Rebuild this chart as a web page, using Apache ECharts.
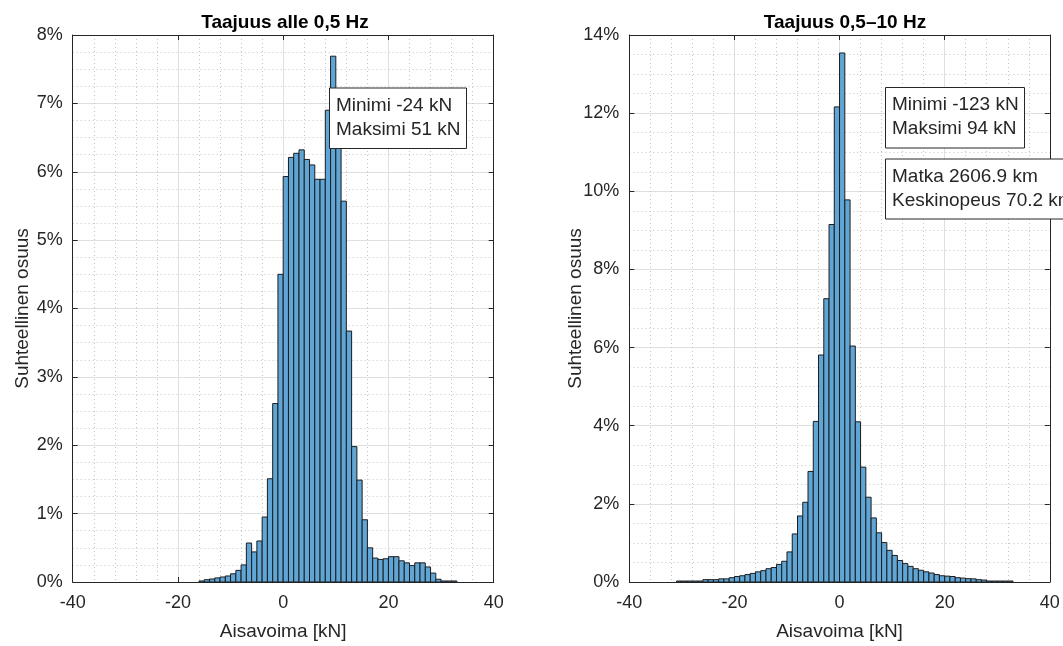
<!DOCTYPE html>
<html><head><meta charset="utf-8">
<script src="https://cdn.jsdelivr.net/npm/echarts@6/dist/echarts.min.js"></script>
<style>html,body{margin:0;padding:0;background:#fff}#c{width:1063px;height:646px}</style>
</head><body><div id="c"></div>
<script>
// ---- data ----
const titleLeft = 'Taajuus alle 0,5 Hz';
const titleRight = 'Taajuus 0,5\u201310 Hz';
const xName = 'Aisavoima [kN]';
const yName = 'Suhteellinen osuus';
const binWidth = 1;
const leftBins = [-16,-15,-14,-13,-12,-11,-10,-9,-8,-7,-6,-5,-4,-3,-2,-1,0,1,2,3,4,5,6,7,8,9,10,11,12,13,14,15,16,17,18,19,20,21,22,23,24,25,26,27,28,29,30,31,32];
const leftPct = [0.015,0.034,0.044,0.06,0.073,0.088,0.12,0.17,0.25,0.57,0.44,0.60,0.95,1.51,2.61,4.50,5.93,6.21,6.27,6.32,6.18,6.10,5.89,5.89,6.90,7.69,6.75,5.57,3.67,1.98,1.49,0.91,0.50,0.35,0.33,0.34,0.37,0.37,0.31,0.28,0.24,0.28,0.28,0.22,0.13,0.04,0.015,0.015,0.015];
const rightBins = [-31,-30,-29,-28,-27,-26,-25,-24,-23,-22,-21,-20,-19,-18,-17,-16,-15,-14,-13,-12,-11,-10,-9,-8,-7,-6,-5,-4,-3,-2,-1,0,1,2,3,4,5,6,7,8,9,10,11,12,13,14,15,16,17,18,19,20,21,22,23,24,25,26,27,28,29,30,31,32];
const rightPct = [0.025,0.025,0.025,0.025,0.025,0.06,0.06,0.06,0.08,0.08,0.11,0.14,0.16,0.19,0.22,0.26,0.29,0.34,0.37,0.45,0.53,0.77,1.23,1.69,2.04,2.83,4.11,5.81,7.25,9.15,12.16,13.54,9.78,6.04,4.10,2.94,2.17,1.64,1.26,1.01,0.81,0.68,0.55,0.47,0.40,0.34,0.30,0.26,0.23,0.19,0.16,0.15,0.14,0.11,0.10,0.085,0.08,0.06,0.05,0.025,0.025,0.025,0.025,0.025];
const xRange = [-40, 40];
const xStep = 20;
const leftYRange = [0, 8];
const leftYStep = 1;
const rightYRange = [0, 14];
const rightYStep = 2;
const leftBoxLines = ['Minimi -24 kN', 'Maksimi 51 kN'];
const rightBox1Lines = ['Minimi -123 kN', 'Maksimi 94 kN'];
const rightBox2Lines = ['Matka 2606.9 km', 'Keskinopeus 70.2 km'];

// ---- styling ----
const FONT = '"Liberation Sans", Arial, Helvetica, sans-serif';
const TXT = '#262626';
const AX = '#262626';
const GRID = '#dfdfdf';
const MINOR = '#c4c4c4';

const chart = echarts.init(document.getElementById('c'), null, {renderer: 'canvas'});

function renderBar(params, api) {
  const x0 = api.value(0), x1 = api.value(1), v = api.value(2);
  const p0 = api.coord([x0, v]);
  const p1 = api.coord([x1, 0]);
  return {
    type: 'rect',
    shape: {x: p0[0], y: p0[1], width: p1[0] - p0[0], height: p1[1] - p0[1]},
    style: {fill: '#5fa6d7', stroke: '#1c1c1c', lineWidth: 1}
  };
}

function xAxes(gridIndex) {
  return [{
    type: 'value', gridIndex, min: xRange[0], max: xRange[1], interval: xStep, position: 'bottom',
    name: xName, nameLocation: 'middle', nameGap: 40, nameMoveOverlap: false,
    nameTextStyle: {fontFamily: FONT, fontSize: 19, color: TXT},
    axisLine: {show: true, onZero: false, lineStyle: {color: AX, width: 1}},
    axisTick: {show: true, inside: true, length: 5, lineStyle: {color: AX}},
    axisLabel: {fontFamily: FONT, fontSize: 18, color: TXT, margin: 12},
    splitLine: {show: true, lineStyle: {color: GRID, width: 1}},
    minorTick: {show: false, splitNumber: 5},
    minorSplitLine: {show: true, lineStyle: {color: MINOR, width: 1, type: [1, 3]}}
  }, {
    type: 'value', gridIndex, min: xRange[0], max: xRange[1], interval: xStep, position: 'top',
    axisLine: {show: true, onZero: false, lineStyle: {color: AX, width: 1}},
    axisTick: {show: true, inside: true, length: 5, lineStyle: {color: AX}},
    axisLabel: {show: false}, splitLine: {show: false}
  }];
}
function yAxes(gridIndex, range, step, gap) {
  return [{
    type: 'value', gridIndex, min: range[0], max: range[1], interval: step, position: 'left',
    name: yName, nameLocation: 'middle', nameGap: gap, nameRotate: 90, nameMoveOverlap: false,
    nameTextStyle: {fontFamily: FONT, fontSize: 19, color: TXT},
    axisLine: {show: true, onZero: false, lineStyle: {color: AX, width: 1}},
    axisTick: {show: true, inside: true, length: 5, lineStyle: {color: AX}},
    axisLabel: {fontFamily: FONT, fontSize: 18, color: TXT, margin: 10, formatter: v => v + '%'},
    splitLine: {show: true, lineStyle: {color: GRID, width: 1}},
    minorTick: {show: false, splitNumber: 4},
    minorSplitLine: {show: true, lineStyle: {color: MINOR, width: 1, type: [1, 3]}}
  }, {
    type: 'value', gridIndex, min: range[0], max: range[1], interval: step, position: 'right',
    axisLine: {show: true, onZero: false, lineStyle: {color: AX, width: 1}},
    axisTick: {show: true, inside: true, length: 5, lineStyle: {color: AX}},
    axisLabel: {show: false}, splitLine: {show: false}
  }];
}

function textBox(x, y, w, h, lines) {
  return [
    {type: 'rect', left: x, top: y, z: 100, zlevel: 1,
     shape: {x: 0, y: 0, width: w, height: h},
     style: {fill: '#ffffff', stroke: '#262626', lineWidth: 1}},
    {type: 'text', left: x + 7, top: y + 6, z: 101, zlevel: 1,
     style: {text: lines.join('\n'), font: '19px ' + FONT, fill: '#262626',
             lineHeight: 24, textAlign: 'left'}}
  ];
}

const option = {
  backgroundColor: '#fff',
  animation: false,
  title: [
    {text: titleLeft, left: 280, top: 8, textAlign: 'center',
     textStyle: {fontFamily: FONT, fontSize: 19, fontWeight: 'bold', color: '#000'}},
    {text: titleRight, left: 840, top: 8, textAlign: 'center',
     textStyle: {fontFamily: FONT, fontSize: 19, fontWeight: 'bold', color: '#000'}}
  ],
  grid: [
    {left: 72.7, top: 35, width: 421, height: 548.3},
    {left: 629.3, top: 35, width: 420.5, height: 548.3}
  ],
  xAxis: [...xAxes(0), ...xAxes(1)],
  yAxis: [...yAxes(0, leftYRange, leftYStep, 40), ...yAxes(1, rightYRange, rightYStep, 44)],
  series: [
    {type: 'custom', xAxisIndex: 0, yAxisIndex: 0, renderItem: renderBar,
     encode: {x: [0, 1], y: 2}, data: leftBins.map((b, i) => [b, b + binWidth, leftPct[i]])},
    {type: 'custom', xAxisIndex: 2, yAxisIndex: 2, renderItem: renderBar,
     encode: {x: [0, 1], y: 2}, data: rightBins.map((b, i) => [b, b + binWidth, rightPct[i]])}
  ],
  graphic: [
    ...textBox(329, 87.5, 137, 60.5, leftBoxLines),
    ...textBox(885, 87, 139, 60.5, rightBox1Lines),
    ...textBox(885, 158.5, 200, 60, rightBox2Lines)
  ]
};
chart.setOption(option);
</script>
</body></html>
